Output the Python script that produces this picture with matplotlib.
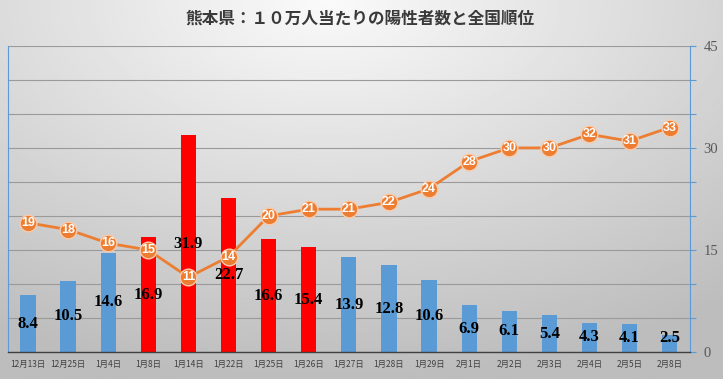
import numpy as np
import matplotlib
matplotlib.use("Agg")
import matplotlib.pyplot as plt

plt.rcParams['font.family'] = ['Noto Sans CJK JP', 'DejaVu Sans']

# データ
dates = ['12月13日', '12月25日', '1月4日', '1月8日', '1月14日', '1月22日', '1月25日', '1月26日',
         '1月27日', '1月28日', '1月29日', '2月1日', '2月2日', '2月3日', '2月4日', '2月5日', '2月8日']
per100k = [8.4, 10.5, 14.6, 16.9, 31.9, 22.7, 16.6, 15.4, 13.9, 12.8, 10.6, 6.9, 6.1, 5.4, 4.3, 4.1, 2.5]
rank = [19, 18, 16, 15, 11, 14, 20, 21, 21, 22, 24, 28, 30, 30, 32, 31, 33]
highlight = ['1月8日', '1月14日', '1月22日', '1月25日', '1月26日']

blue = '#5B9BD5'
red = '#FF0000'
orange = '#ED7D31'

fig = plt.figure(figsize=(7.23, 3.79), dpi=100)

# 背景のグラデーション
bg = fig.add_axes([0, 0, 1, 1], zorder=-10)
yy, xx = np.mgrid[0:1:200j, 0:1:400j]
d = np.sqrt(((xx - 0.45) * 1.1) ** 2 + ((yy - 0.0) * 1.0) ** 2)
shade = np.clip(0.98 - 0.24 * d, 0.74, 1.0)
bg.imshow(shade, cmap='gray', vmin=0, vmax=1, aspect='auto', extent=[0, 1, 0, 1], origin='upper')
bg.axis('off')

ax = fig.add_axes([0.011, 0.071, 0.943, 0.808])
ax.set_facecolor('none')

x = np.arange(len(dates))
colors = [red if d in highlight else blue for d in dates]
ax.bar(x, per100k, width=0.38, color=colors, zorder=2)
ax.set_xlim(-0.5, len(dates) - 0.5)
ax.set_ylim(0, 45)

for xi, v in zip(x, per100k):
    ax.text(xi, max(v / 2, 2.1), f'{v}', ha='center', va='center', fontsize=12,
            fontweight='bold', family='Liberation Serif', color='black', zorder=4)

ax.plot(x, rank, color=orange, lw=2, marker='o', ms=12, mfc=orange, mec='#F8CBAD',
        mew=1, zorder=3)
for xi, r in zip(x, rank):
    ax.text(xi, r, str(r), ha='center', va='center', fontsize=9, fontweight='bold',
            color='white', family='Liberation Sans', zorder=5)

ax.set_yticks(np.arange(0, 46, 5))
ax.set_yticklabels([str(t) if t % 15 == 0 else '' for t in range(0, 46, 5)])
ax.yaxis.tick_right()
ax.tick_params(axis='y', length=4, color=blue, labelsize=10.5, labelcolor='#595959', pad=6)
for lab in ax.get_yticklabels():
    lab.set_family('Liberation Serif')
ax.grid(axis='y', color='#9A9A9A', lw=0.8, zorder=0)

ax.set_xticks(x)
ax.set_xticklabels(dates, fontsize=6, color='#404040')
ax.tick_params(axis='x', length=0, pad=6)

ax.spines['top'].set_visible(False)
ax.spines['left'].set_color(blue)
ax.spines['right'].set_color(blue)
ax.spines['left'].set_linewidth(0.8)
ax.spines['right'].set_linewidth(0.8)
ax.spines['bottom'].set_color('#404040')
ax.spines['bottom'].set_linewidth(1)

fig.text(0.498, 0.95, '熊本県：１０万人当たりの陽性者数と全国順位', ha='center', va='center',
         fontsize=12, fontweight='bold', color='#3A3A3A')

fig.savefig('out.png', dpi=100)
